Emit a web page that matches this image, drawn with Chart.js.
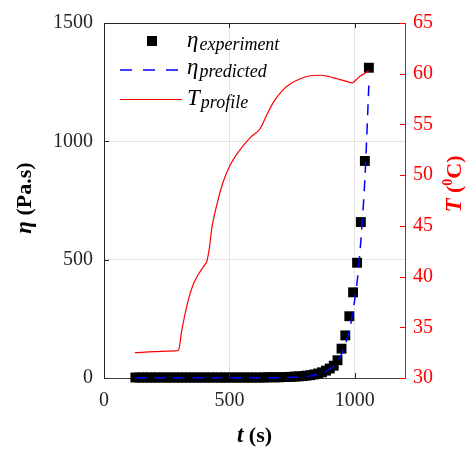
<!DOCTYPE html>
<html>
<head>
<meta charset="utf-8">
<script src="https://cdn.jsdelivr.net/npm/chart.js@4"></script>
<style>
html,body{margin:0;padding:0;background:#fff;}
#wrap{position:relative;width:470px;height:449px;}
</style>
</head>
<body>
<div id="wrap"><canvas id="c" width="470" height="449"></canvas></div>
<script>
// ---- data ----
const expTimes = [125,141,156,172,187,203,218,234,249,265,280,296,311,327,342,358,373,389,404,420,435,451,466,482,497,513,528,544,559,575,590,606,621,637,652,668,683,699,714,730,745,761,776,792,807,823,838,854,869,885,900,916,931,947,962,978,993,1009,1024,1040,1056];
const etaExperiment = [2,2,2,2,2,2,2,2,2,2,2,2,2,2,2,2,2,2,2,2,2,2,2,2,2,2,2,2,2,2,2,2,2,2,3,3,3,3,4,4,5,6,7,8,10,12,15,19,24,31,40,52,75,124,180,261,362,487,659,917,1311];
const etaPredicted = [1,1,1,1,1,1,1,1,1,1,1,1,1,1,1,1,1,1,1,1,1,1,1,1,1,1,1,1,1,1,1,1,1,1,1,1,1,1,2,2,3,3,4,5,7,9,12,16,21,28,38,52,72,100,142,200,285,405,580,840,1240];
const tempTimes = [123,200,283,297,310,323,339,356,376,403,410,420,430,450,476,503,536,583,623,650,676,710,743,783,823,863,900,930,960,990,1005,1023,1040,1056];
const tempProfile = [32.5,32.6,32.67,32.74,34.7,36.3,37.95,39.25,40.2,41.2,41.5,42.8,44.8,47.1,49.4,51.0,52.3,53.7,54.6,56.0,57.2,58.3,59.0,59.5,59.8,59.85,59.7,59.5,59.3,59.1,59.4,59.8,60.05,60.3];
const xTicks = [0,500,1000];
const etaTicks = [0,500,1000,1500];
const tempTicks = [30,35,40,45,50,55,60,65];

const SERIF = "'Liberation Serif', serif";
const pts = (xs, ys) => xs.map((x,i)=>({x:x,y:ys[i]}));

function drawRuns(ctx, runs, cx, cy, rot, color){
  ctx.save();
  ctx.translate(cx, cy);
  if (rot) ctx.rotate(rot);
  ctx.fillStyle = color;
  ctx.textBaseline = 'alphabetic';
  ctx.textAlign = 'left';
  let total = 0;
  runs.forEach(r=>{ctx.font=r.font; r.w=ctx.measureText(r.text).width; total+=r.w;});
  let x = -total/2;
  runs.forEach(r=>{ctx.font=r.font; ctx.fillText(r.text, x, r.dy||0); x+=r.w;});
  ctx.restore();
}

const decor = {
  id:'decor',
  afterDraw(chart){
    const ctx = chart.ctx;
    const ca = chart.chartArea;
    const xs = chart.scales.x, yl = chart.scales.y, yr = chart.scales.y2;
    ctx.save();
    // top border
    ctx.strokeStyle = '#262626'; ctx.lineWidth = 1;
    ctx.beginPath(); ctx.moveTo(ca.left, ca.top+0.5); ctx.lineTo(ca.right, ca.top+0.5); ctx.stroke();
    // inward ticks
    const L = 5;
    ctx.beginPath();
    xTicks.forEach(v=>{const p=Math.round(xs.getPixelForValue(v))+0.5;
      ctx.moveTo(p, ca.bottom); ctx.lineTo(p, ca.bottom-L);
      ctx.moveTo(p, ca.top); ctx.lineTo(p, ca.top+L);});
    etaTicks.forEach(v=>{const p=Math.round(yl.getPixelForValue(v))+0.5;
      ctx.moveTo(ca.left, p); ctx.lineTo(ca.left+L, p);});
    ctx.stroke();
    ctx.strokeStyle = '#ff0000';
    ctx.beginPath();
    tempTicks.forEach(v=>{const p=Math.round(yr.getPixelForValue(v))+0.5;
      ctx.moveTo(ca.right, p); ctx.lineTo(ca.right-L, p);});
    ctx.stroke();
    ctx.restore();

    // axis titles
    drawRuns(ctx, [
      {text:'η', font:'italic bold 23px '+SERIF},
      {text:' (Pa.s)', font:'bold 22px '+SERIF}
    ], 31, 198, -Math.PI/2, '#000');
    drawRuns(ctx, [
      {text:'t', font:'italic bold 23px '+SERIF},
      {text:' (s)', font:'bold 22px '+SERIF}
    ], (ca.left+ca.right)/2, 442, 0, '#000');
    drawRuns(ctx, [
      {text:'T', font:'italic bold 23px '+SERIF},
      {text:' (', font:'bold 22px '+SERIF},
      {text:'0', font:'bold 14px '+SERIF, dy:-9},
      {text:'C)', font:'bold 22px '+SERIF}
    ], 461, 184, -Math.PI/2, '#ff0000');

    // legend
    ctx.save();
    ctx.fillStyle = '#000';
    ctx.fillRect(147, 36, 10, 10);
    ctx.strokeStyle = '#0000ff'; ctx.lineWidth = 1.5; ctx.setLineDash([12,11]);
    ctx.beginPath(); ctx.moveTo(120, 70); ctx.lineTo(182, 70); ctx.stroke();
    ctx.setLineDash([]);
    ctx.strokeStyle = '#ff0000'; ctx.lineWidth = 1.2;
    ctx.beginPath(); ctx.moveTo(120, 99.5); ctx.lineTo(182, 99.5); ctx.stroke();
    ctx.restore();
    const legText = (main, sub, x, y)=>{
      ctx.save(); ctx.fillStyle='#000'; ctx.textBaseline='alphabetic'; ctx.textAlign='left';
      ctx.font = 'italic 23px '+SERIF; ctx.fillText(main, x, y);
      const w = ctx.measureText(main).width;
      ctx.font = 'italic 18px '+SERIF; ctx.fillText(sub, x+w+1, y+3);
      ctx.restore();
    };
    legText('η','experiment',187,47);
    legText('η','predicted',187,74);
    legText('T','profile',187,105);
  }
};

const plain = v => String(v);

new Chart(document.getElementById('c'), {
  type:'scatter',
  data:{
    datasets:[
      {label:'eta_exp', data:pts(expTimes, etaExperiment), yAxisID:'y', showLine:false, clip:false,
       pointStyle:'rect', pointRadius:7, pointHoverRadius:7, backgroundColor:'#000', borderWidth:0, order:3},
      {label:'eta_pred', data:pts(expTimes, etaPredicted), yAxisID:'y', showLine:true, clip:false,
       borderColor:'#0000ff', borderWidth:1.5, borderDash:[11,8], pointRadius:0, tension:0.3, order:1},
      {label:'T', data:pts(tempTimes, tempProfile), yAxisID:'y2', showLine:true,
       borderColor:'#ff0000', borderWidth:1.2, pointRadius:0, cubicInterpolationMode:'monotone', order:2}
    ]
  },
  options:{
    responsive:false, animation:false, devicePixelRatio:1,
    layout:{padding:{top:20,left:0,right:0,bottom:0}},
    plugins:{legend:{display:false}, tooltip:{enabled:false}},
    scales:{
      x:{type:'linear', min:0, max:1200,
         afterBuildTicks(s){s.ticks = xTicks.map(v=>({value:v}));},
         afterFit(s){s.height = 71;},
         grid:{color:'#e3e3e3', drawTicks:false, lineWidth:1},
         border:{color:'#404040', width:1},
         ticks:{padding:11, color:'#262626', font:{family:SERIF, size:20}, maxRotation:0, callback:plain}},
      y:{type:'linear', position:'left', min:0, max:1500,
         afterBuildTicks(s){s.ticks = etaTicks.map(v=>({value:v}));},
         afterFit(s){s.width = 104;},
         grid:{color:'#e3e3e3', drawTicks:false, lineWidth:1},
         border:{color:'#262626', width:1},
         ticks:{padding:11, color:'#262626', font:{family:SERIF, size:20}, callback:plain}},
      y2:{type:'linear', position:'right', min:30, max:65,
         afterBuildTicks(s){s.ticks = tempTicks.map(v=>({value:v}));},
         afterFit(s){s.width = 65;},
         grid:{drawOnChartArea:false, drawTicks:false},
         border:{color:'#ff0000', width:1},
         ticks:{padding:8, color:'#ff0000', font:{family:SERIF, size:20}, callback:plain}}
    }
  },
  plugins:[decor]
});
</script>
</body>
</html>
